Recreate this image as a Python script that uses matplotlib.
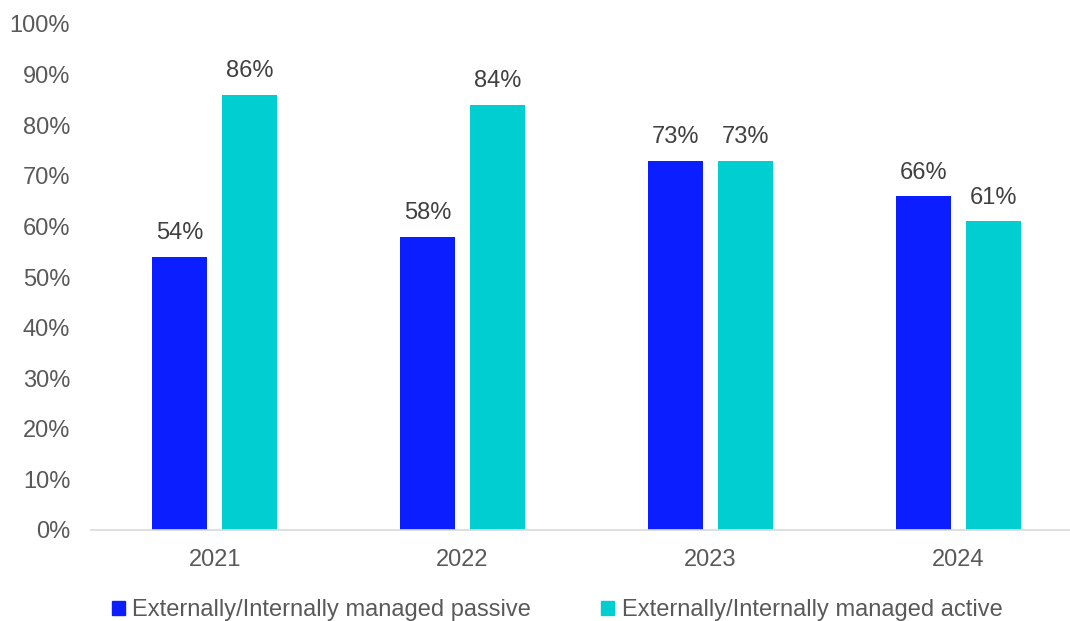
import matplotlib
matplotlib.use("Agg")
import matplotlib.pyplot as plt
import numpy as np
from matplotlib.patches import Patch

years = ["2021", "2022", "2023", "2024"]
passive = [54, 58, 73, 66]
active = [86, 84, 73, 61]
series_names = ["Externally/Internally managed passive", "Externally/Internally managed active"]
yticks = list(range(0, 101, 10))

plt.rcParams['font.family'] = ['Liberation Sans', 'DejaVu Sans']
c_pass = "#0A1EFF"
c_act = "#00CED1"
fs = 17

fig = plt.figure(figsize=(10.7, 6.21), dpi=100)
ax = fig.add_axes([91/1070, 1-530/621, 1-91/1070, (530-24)/621])

x = np.arange(len(years))
w = 0.222
off = 0.141
b1 = ax.bar(x - off, passive, w, color=c_pass)
b2 = ax.bar(x + off, active, w, color=c_act)
for bars, vals in ((b1, passive), (b2, active)):
    for b, v in zip(bars, vals):
        ax.annotate(f"{v}%", (b.get_x() + b.get_width()/2, v), xytext=(0, 9),
                    textcoords="offset points", ha="center", va="bottom",
                    fontsize=fs, color="#404040")

ax.set_xlim(-0.5, 3 + (1070-958)/248)
ax.set_ylim(0, 100)
ax.set_yticks(yticks)
ax.set_yticklabels([f"{t}%" for t in yticks])
ax.set_xticks(x)
ax.set_xticklabels(years)
ax.tick_params(axis='both', length=0, labelsize=fs, colors="#595959")
ax.tick_params(axis='x', pad=14)
ax.tick_params(axis='y', pad=15)
for s in ["top", "right", "left"]:
    ax.spines[s].set_visible(False)
ax.spines["bottom"].set_color("#D9D9D9")
ax.spines["bottom"].set_linewidth(1.2)

handles = [Patch(color=c_pass), Patch(color=c_act)]
fig.legend(handles, series_names, loc="center", bbox_to_anchor=(557/1070, 1-610/621),
           ncol=2, frameon=False, fontsize=fs, handlelength=0.55, handleheight=0.55,
           handletextpad=0.3, columnspacing=3.0, labelcolor="#595959")

fig.savefig("out.png", dpi=100)
